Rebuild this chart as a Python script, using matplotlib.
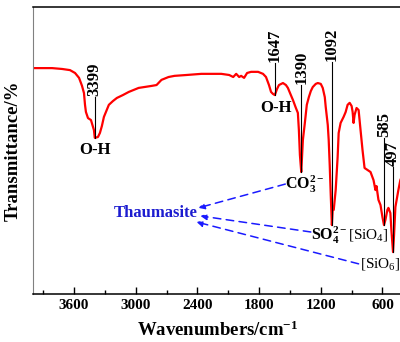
import matplotlib
matplotlib.use("Agg")
import matplotlib.pyplot as plt
from matplotlib.ticker import FixedLocator

plt.rcParams['font.family'] = ['Liberation Serif', 'DejaVu Serif']
plt.rcParams['mathtext.fontset'] = 'custom'
plt.rcParams['mathtext.rm'] = 'Liberation Serif'
plt.rcParams['mathtext.bf'] = 'Liberation Serif:bold'
plt.rcParams['mathtext.it'] = 'Liberation Serif:italic'

# FTIR spectrum (wavenumber cm-1, transmittance arbitrary %)
wavenumber = [4000, 3814, 3717, 3640, 3591, 3552, 3523, 3504, 3494, 3485, 3465, 3436,
              3407, 3399, 3368, 3349, 3330, 3310, 3262, 3223, 3184, 3126, 3068, 2972,
              2846, 2798, 2750, 2681, 2623, 2507, 2362, 2168, 2091, 2052, 2023, 1994,
              1975, 1946, 1917, 1878, 1810, 1762, 1733, 1704, 1684, 1665, 1647, 1626,
              1607, 1568, 1539, 1520, 1491, 1471, 1442, 1423, 1413, 1403, 1390, 1384,
              1374, 1355, 1336, 1316, 1297, 1278, 1249, 1229, 1200, 1181, 1161, 1152,
              1132, 1123, 1113, 1103, 1092, 1084, 1074, 1055, 1036, 1026, 1007, 978,
              958, 939, 919, 900, 890, 881, 871, 852, 832, 813, 794, 774, 745, 716,
              687, 668, 658, 639, 619, 600, 585, 571, 552, 542, 523, 513, 497, 487,
              474, 445, 426, 400]
transmittance = [78.7, 78.7, 78.4, 78.0, 77.0, 75.3, 72.5, 70.0, 65.9, 63.4, 61.3, 60.6,
                 57.1, 54.4, 54.7, 56.1, 58.5, 61.7, 65.9, 67.2, 68.3, 69.3, 70.4, 71.8,
                 72.5, 72.8, 74.6, 75.6, 76.0, 76.3, 76.7, 76.7, 76.3, 75.6, 76.7, 75.6,
                 76.0, 75.3, 77.0, 77.4, 77.4, 76.7, 75.6, 72.8, 70.4, 69.7, 69.3, 71.4,
                 72.8, 73.5, 72.8, 71.8, 69.3, 67.6, 64.8, 63.1, 57.1, 48.4, 42.5, 46.7,
                 53.7, 59.6, 65.9, 68.6, 70.7, 72.1, 73.2, 73.5, 73.2, 71.8, 68.6, 65.2,
                 58.9, 53.7, 44.9, 34.5, 24.0, 29.3, 29.3, 36.2, 47.7, 56.1, 59.6, 61.7,
                 63.4, 65.9, 66.6, 65.5, 63.4, 59.6, 62.4, 64.8, 64.1, 57.1, 50.2, 43.9,
                 43.2, 42.5, 39.7, 36.2, 37.6, 32.8, 31.0, 26.8, 24.0, 25.8, 29.3, 30.0,
                 28.2, 22.3, 14.6, 20.6, 30.3, 36.2, 39.7, 41.8]

# peak labels: position, bottom of marker line, top of marker line
peak_pos = [3399, 1647, 1390, 1092, 585, 497]
peak_low = [54.4, 69.3, 42.5, 24.0, 24.0, 14.6]
peak_top = [68.6, 80.5, 72.8, 80.8, 54.4, 44.3]
peak_text = ['3399', '1647', '1390', '1092', '585', '497']

major_ticks = [3600, 3000, 2400, 1800, 1200, 600]
minor_ticks = [3900, 3300, 2700, 2100, 1500, 900]

fig = plt.figure(figsize=(4, 3.42), dpi=100)
ax = fig.add_axes([0.0825, 0.1404, 0.925, 0.8392])

ax.plot(wavenumber, transmittance, color='red', lw=1.6)

for x, y0, y1, t in zip(peak_pos, peak_low, peak_top, peak_text):
    ax.plot([x, x], [y0, y1], color='black', lw=0.8)
    ax.text(x, y1 + 0.3, t, rotation=90, ha='center', va='bottom',
            fontsize=12, fontweight='bold')

ax.text(3399, 50.2, 'O-H', ha='center', va='center', fontsize=12, fontweight='bold')
ax.text(1636, 64.8, 'O-H', ha='center', va='center', fontsize=12, fontweight='bold')

ax.text(1545, 38.3, r'CO$_\mathbf{3}^\mathbf{2-}$', ha='left', va='center',
        fontsize=11.5, fontweight='bold')
ax.text(1297, 20.5, r'SO$_\mathbf{4}^\mathbf{2-}$', ha='left', va='center',
        fontsize=11.5, fontweight='bold')
ax.text(935, 20.5, r'[SiO$_4$]', ha='left', va='center', fontsize=11)
ax.text(823, 10.5, r'[SiO$_6$]', ha='left', va='center', fontsize=11)

ax.text(2807, 28.2, 'Thaumasite', ha='center', va='center', fontsize=12,
        fontweight='bold', color='#1c1cd0')

# dashed arrows pointing to the Thaumasite label
arrow_from = [(1545, 38.3), (1297, 21.6), (832, 10.5)]
arrow_to = [(2391, 30.0), (2371, 27.2), (2410, 25.1)]
for (x0, y0), (x1, y1) in zip(arrow_from, arrow_to):
    ax.annotate('', xy=(x1, y1), xytext=(x0, y0),
                arrowprops=dict(arrowstyle='-|>', color='#1a1aff', lw=1.1,
                                linestyle=(0, (5, 3.5)), mutation_scale=9,
                                shrinkA=0, shrinkB=0))

ax.set_xlim(4000, 400)
ax.set_ylim(0, 100)
ax.set_yticks([])
ax.xaxis.set_major_locator(FixedLocator(major_ticks))
ax.xaxis.set_minor_locator(FixedLocator(minor_ticks))
ax.tick_params(axis='x', which='major', direction='in', length=5, width=1, labelsize=11)
ax.tick_params(axis='x', which='minor', direction='in', length=3, width=1)
for lab in ax.get_xticklabels():
    lab.set_fontweight('bold')

ax.spines['left'].set_color('#808080')
ax.spines['right'].set_visible(False)
for s in ['top', 'bottom']:
    ax.spines[s].set_linewidth(1.1)

ax.set_xlabel('Wavenumbers/cm$^{\\mathbf{-1}}$', fontsize=13.5, fontweight='bold', labelpad=6)
ax.set_ylabel('Transmittance/%', fontsize=13.5, fontweight='bold', labelpad=8)

fig.savefig('out.png', dpi=100)
